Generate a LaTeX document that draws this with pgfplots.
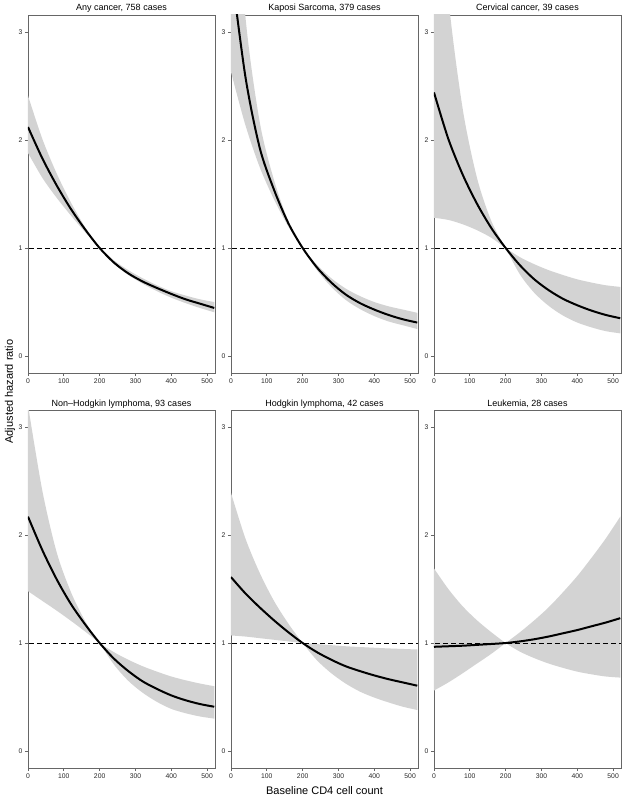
\documentclass[border=0pt]{standalone}
\usepackage{pgfplots}
\pgfplotsset{compat=1.18}
\usepackage{pgfplotstable}
\usepgfplotslibrary{groupplots,fillbetween}
\usetikzlibrary{calc}
\usepackage{fontspec}
\setmainfont{Liberation Sans}
\definecolor{band}{HTML}{D3D3D3}
\definecolor{axgray}{HTML}{666666}

% x = CD4, m = hazard ratio, a/b = the two confidence bounds
\pgfplotstableread{
x m a b
0 2.12 2.41 1.88
40 1.83 2.01 1.65
80 1.58 1.69 1.465
120 1.36 1.42 1.30
160 1.17 1.19 1.145
200 1.00 1.00 1.00
240 0.865 0.855 0.885
280 0.765 0.75 0.795
320 0.69 0.67 0.72
360 0.63 0.60 0.655
400 0.575 0.54 0.60
440 0.525 0.49 0.56
480 0.485 0.445 0.525
520 0.445 0.405 0.50
}\tA

\pgfplotstableread{
x m a b
0 3.60 4.9 2.63
40 2.59 3.15 2.14
80 1.93 2.17 1.75
120 1.54 1.63 1.45
160 1.23 1.25 1.20
200 1.00 1.00 1.00
240 0.82 0.795 0.845
280 0.68 0.64 0.72
320 0.57 0.52 0.625
360 0.49 0.435 0.555
400 0.43 0.37 0.50
440 0.38 0.32 0.46
480 0.34 0.285 0.43
520 0.31 0.25 0.40
}\tB

\pgfplotstableread{
x m a b
0 2.44 4.95 1.28
40 2.01 3.32 1.26
80 1.68 2.29 1.22
120 1.41 1.65 1.165
160 1.185 1.25 1.095
200 1.00 1.00 1.00
240 0.84 0.755 0.915
280 0.71 0.585 0.85
320 0.61 0.465 0.795
360 0.53 0.375 0.75
400 0.47 0.31 0.71
440 0.42 0.265 0.68
480 0.38 0.23 0.655
520 0.35 0.21 0.64
}\tC

\pgfplotstableread{
x m a b
0 2.17 3.20 1.48
40 1.86 2.41 1.39
80 1.59 1.84 1.30
120 1.36 1.47 1.205
160 1.17 1.20 1.105
200 1.00 1.00 1.00
240 0.855 0.80 0.915
280 0.74 0.65 0.845
320 0.645 0.54 0.785
360 0.575 0.455 0.735
400 0.515 0.39 0.69
440 0.47 0.35 0.655
480 0.435 0.32 0.625
520 0.41 0.30 0.60
}\tD

\pgfplotstableread{
x m a b
0 1.61 2.39 1.07
40 1.46 1.97 1.06
80 1.33 1.65 1.045
120 1.21 1.39 1.03
160 1.10 1.18 1.015
200 1.00 1.00 1.00
240 0.915 0.84 0.99
280 0.845 0.72 0.98
320 0.785 0.625 0.97
360 0.74 0.55 0.963
400 0.70 0.495 0.956
440 0.665 0.45 0.95
480 0.635 0.41 0.945
520 0.605 0.38 0.94
}\tE

\pgfplotstableread{
x m a b
0 0.965 1.69 0.56
40 0.97 1.50 0.635
80 0.975 1.34 0.72
120 0.983 1.21 0.81
160 0.991 1.10 0.90
200 1.00 1.00 1.00
240 1.015 0.92 1.10
280 1.035 0.86 1.21
320 1.06 0.81 1.33
360 1.09 0.77 1.47
400 1.12 0.735 1.62
440 1.155 0.71 1.79
480 1.19 0.69 1.97
520 1.23 0.68 2.17
}\tF

\newcommand{\panel}[2]{%
  \addplot[name path=A#2, draw=none, smooth] table[x=x,y=a]{#1};
  \addplot[name path=B#2, draw=none, smooth] table[x=x,y=b]{#1};
  \addplot[band, draw=none] fill between[of=A#2 and B#2];
  \addplot[black, dash pattern=on 5pt off 3pt, line width=0.8pt] coordinates {(-20,1) (560,1)};
  \addplot[black, line width=2pt, smooth] table[x=x,y=m]{#1};
}

\begin{document}
\begin{tikzpicture}
\begin{groupplot}[
  group style={group size=3 by 2, horizontal sep=16pt, vertical sep=37pt},
  width=187pt, height=358pt, scale only axis,
  xmin=0, xmax=522, ymin=-0.157, ymax=3.157,
  xtick={0,100,...,500}, ytick={0,1,2,3},
  tick align=outside, tick pos=left,
  major tick length=3pt,
  axis line style={axgray, line width=0.9pt},
  every tick/.style={axgray, line width=0.8pt},
  /pgf/number format/assume math mode=true,
  tick label style={font=\fontsize{6.8}{7}\selectfont, text=black!85},
  xticklabel style={yshift=1pt},
  yticklabel style={xshift=1pt},
  title style={font=\fontsize{9}{10}\selectfont, at={(0.5,1)}, anchor=base, yshift=-2pt},
]
\nextgroupplot[title={Any cancer, 758 cases}]
\panel{\tA}{1}
\nextgroupplot[title={Kaposi Sarcoma, 379 cases}]
\panel{\tB}{2}
\nextgroupplot[title={Cervical cancer, 39 cases}]
\panel{\tC}{3}
\nextgroupplot[title={Non--Hodgkin lymphoma, 93 cases}]
\panel{\tD}{4}
\nextgroupplot[title={Hodgkin lymphoma, 42 cases}]
\panel{\tE}{5}
\nextgroupplot[title={Leukemia, 28 cases}]
\panel{\tF}{6}
\end{groupplot}
\node[font=\fontsize{11}{12}\selectfont, anchor=base] at ($(group c2r2.south)+(0,-26pt)$) {Baseline CD4 cell count};
\node[font=\fontsize{11}{12}\selectfont, rotate=90, anchor=center] at ($(group c1r1.south west)!0.5!(group c1r2.north west)+(-18pt,0)$) {Adjusted hazard ratio};
\pgfresetboundingbox
\path[use as bounding box] ($(group c1r1.north west)+(-28pt,15pt)$) rectangle ($(group c3r2.south east)+(4pt,-30pt)$);
\end{tikzpicture}
\end{document}
